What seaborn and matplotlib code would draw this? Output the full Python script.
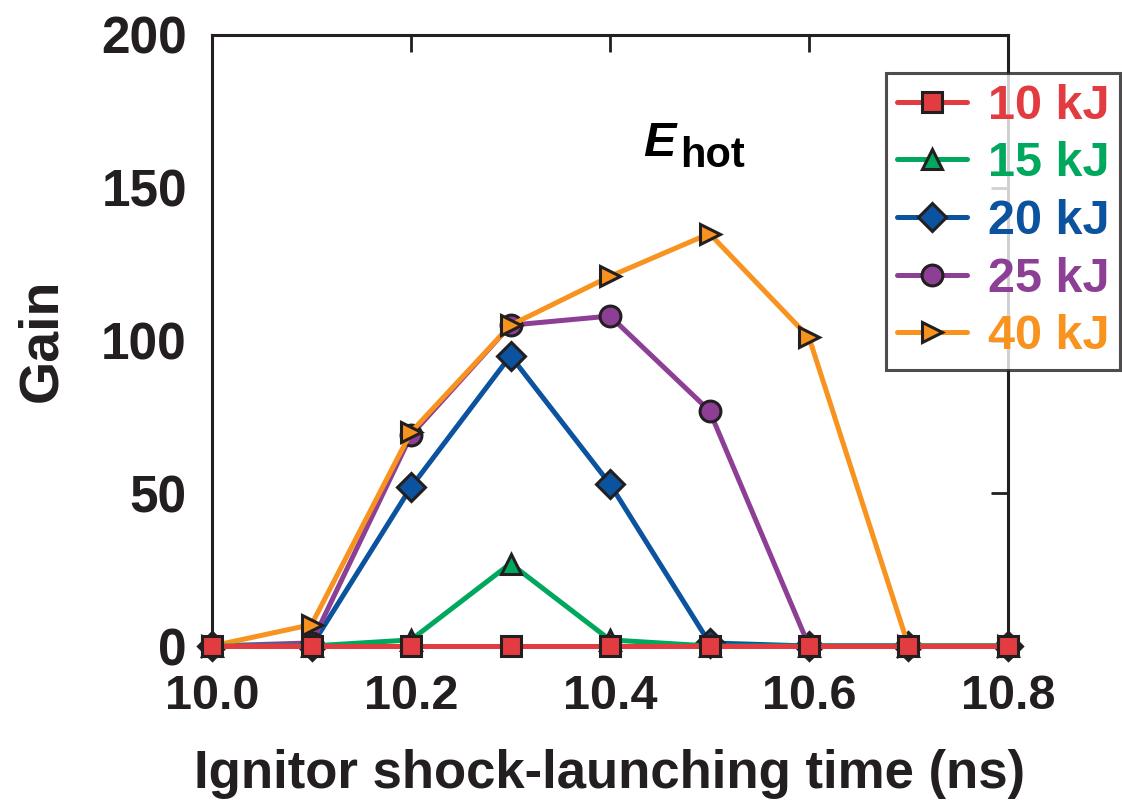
import matplotlib
matplotlib.use("Agg")
import matplotlib.pyplot as plt
import seaborn as sns
import pandas as pd
from matplotlib import font_manager

# ---- data ----
times = [10.0, 10.1, 10.2, 10.3, 10.4, 10.5, 10.6, 10.7, 10.8]
gain_10kJ = [0, 0, 0, 0, 0, 0, 0, 0, 0]
gain_15kJ = [0, 0, 2, 27, 2, 0, 0, 0, 0]
gain_20kJ = [0, 0, 52, 95, 53, 1, 0, 0, 0]
gain_25kJ = [0, 1, 69, 105, 108, 77, 0, 0, 0]
gain_40kJ = [0, 7, 70, 105, 121, 135, 101, 0, 0]
labels = ["10 kJ", "15 kJ", "20 kJ", "25 kJ", "40 kJ"]
x_ticks = [10.0, 10.2, 10.4, 10.6, 10.8]
y_ticks = [0, 50, 100, 150, 200]

colors = {"10 kJ": "#E23B40", "15 kJ": "#00A85E", "20 kJ": "#0B529F",
          "25 kJ": "#8D3F95", "40 kJ": "#F7931E"}
markers = {"10 kJ": "s", "15 kJ": "^", "20 kJ": "D", "25 kJ": "o", "40 kJ": ">"}
msizes = {"10 kJ": 14, "15 kJ": 15, "20 kJ": 14, "25 kJ": 15, "40 kJ": 15}
zorders = {"10 kJ": 10, "15 kJ": 8, "20 kJ": 5, "25 kJ": 6, "40 kJ": 7}

series = [gain_10kJ, gain_15kJ, gain_20kJ, gain_25kJ, gain_40kJ]
df = pd.concat([pd.DataFrame({"t": times, "gain": s, "E": lab}) for s, lab in zip(series, labels)],
               ignore_index=True)

sns.set_style("white")
names = {f.name for f in font_manager.fontManager.ttflist}
main_font = "Liberation Sans" if "Liberation Sans" in names else "DejaVu Sans"
narrow_font = "Liberation Sans Narrow" if "Liberation Sans Narrow" in names else main_font
plt.rcParams["font.family"] = [main_font, "DejaVu Sans"]
plt.rcParams["font.weight"] = "bold"

fig = plt.figure(figsize=(11.22, 8.06), dpi=100)
ax = fig.add_axes([212/1122, 1-646/806, (1008-212)/1122, (646-35)/806])

ink = "#231F20"
for lab in labels:
    sub = df[df["E"] == lab]
    sns.lineplot(data=sub, x="t", y="gain", ax=ax, color=colors[lab], marker=markers[lab],
                 markersize=msizes[lab], markeredgecolor=ink, markeredgewidth=2.2,
                 linewidth=3.6, label=lab, legend=False, zorder=zorders[lab], clip_on=False)

ax.set_xlim(10.0, 10.8)
ax.set_ylim(0, 200)
ax.set_xticks(x_ticks)
ax.set_xticklabels([f"{v:.1f}" for v in x_ticks], fontfamily=narrow_font, fontsize=35, fontweight="bold")
ax.set_yticks(y_ticks)
ax.set_yticklabels([str(v) for v in y_ticks], fontsize=37, fontweight="bold")
ax.tick_params(direction="in", length=12, width=2, top=True, right=True, colors=ink)
ax.tick_params(axis="y", pad=18)
ax.tick_params(axis="x", pad=20)
for sp in ax.spines.values():
    sp.set_linewidth(2.2)
    sp.set_color(ink)
    sp.set_zorder(3)

ax.set_xlabel("Ignitor shock-launching time (ns)", fontfamily=narrow_font, fontsize=38,
              fontweight="bold", color=ink, labelpad=22)
ax.set_ylabel("Gain", fontsize=40, fontweight="bold", color=ink, labelpad=24)

handles = [ln for ln in ax.get_lines()]
leg = fig.legend(handles=handles, labels=labels, loc="upper left",
                 bbox_to_anchor=(886/1122, 1-73/806), fontsize=35, frameon=True,
                 fancybox=False, handlelength=1.45, handletextpad=0.42, borderpad=0.22,
                 labelspacing=0.26, borderaxespad=0)
leg.get_frame().set_edgecolor(ink)
leg.get_frame().set_linewidth(2.2)
for txt, lab in zip(leg.get_texts(), labels):
    txt.set_color(colors[lab])
    txt.set_fontweight("bold")

fig.text(643/1122, 1-156/806, "E", fontsize=35, fontweight="bold", style="italic",
         color="black", va="baseline")
fig.text(680/1122, 1-167/806, "hot", fontsize=30, fontweight="bold", color="black",
         va="baseline")

fig.savefig("out.png", dpi=100)
